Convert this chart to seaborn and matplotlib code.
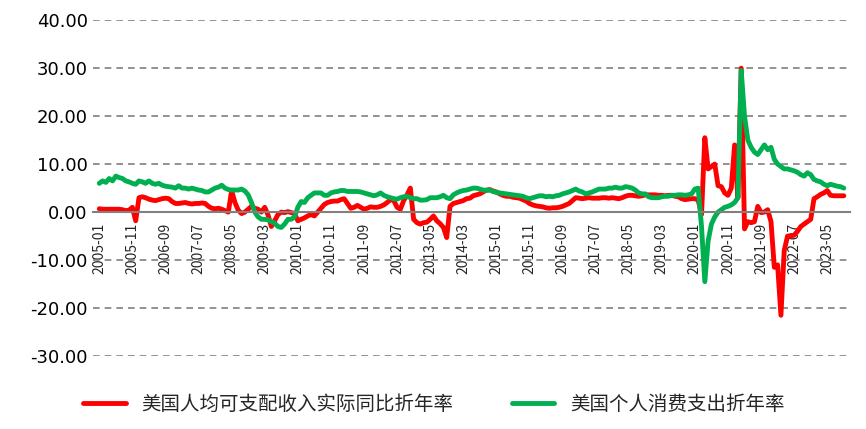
import numpy as np
import pandas as pd
import seaborn as sns
import matplotlib
matplotlib.use("Agg")
import matplotlib.pyplot as plt

# Monthly series, 2005-01 .. 2023-10

months = pd.date_range("2005-01-01", "2023-10-01", freq="MS").strftime("%Y-%m").tolist()

income = [
    0.7, 0.6, 0.6, 0.6, 0.6, 0.6, 0.6, 0.5, 0.3, 0.4, 1.0, -1.8,
    3.0, 3.2, 3.0, 2.7, 2.5, 2.4, 2.6, 2.8, 2.9, 2.8, 2.2, 1.8,
    1.8, 1.9, 2.0, 1.8, 1.7, 1.8, 1.8, 1.9, 1.8, 1.2, 0.8, 0.7,
    0.8, 0.6, 0.3, 0.0, 4.5, 2.0, 0.4, -0.3, 0.0, 0.6, 1.2, 0.8,
    0.6, 0.0, 1.0, -0.6, -3.0, -1.8, -0.5, 0.0, -0.1, 0.1, -0.1, -0.3,
    -1.8, -1.5, -1.2, -0.8, -0.5, -0.8, 0.0, 0.8, 1.6, 2.0, 2.2, 2.3,
    2.3, 2.6, 2.8, 1.8, 0.8, 1.0, 1.4, 1.0, 0.6, 0.8, 1.1, 1.0,
    1.0, 1.2, 1.5, 2.0, 2.6, 2.4, 1.0, 0.6, 2.4, 3.6, 5.0, -1.5,
    -2.2, -2.5, -2.2, -2.1, -1.5, -0.8, -1.8, -2.4, -3.2, -5.3, 1.2, 1.8,
    2.0, 2.2, 2.4, 2.8, 2.9, 3.4, 3.6, 3.8, 4.2, 4.6, 4.7, 4.4,
    4.2, 3.8, 3.5, 3.3, 3.3, 3.1, 3.0, 2.9, 2.6, 2.3, 1.8, 1.5,
    1.3, 1.2, 1.1, 0.9, 0.8, 0.9, 0.9, 1.0, 1.2, 1.5, 1.8, 2.4,
    3.0, 2.9, 2.8, 2.9, 3.0, 2.9, 2.9, 2.9, 3.0, 3.0, 2.9, 3.0,
    2.9, 2.8, 3.0, 3.3, 3.5, 3.5, 3.4, 3.3, 3.4, 3.6, 3.6, 3.6,
    3.6, 3.5, 3.5, 3.4, 3.5, 3.5, 3.3, 3.2, 2.8, 2.6, 2.7, 2.8,
    2.8, 2.5, -0.5, 15.5, 9.0, 9.5, 10.0, 5.5, 5.3, 4.0, 3.5, 5.0,
    14.0, 3.0, 30.0, -3.5, -2.0, -2.2, -2.0, 1.2, -0.1, 0.0, 0.5, -2.0,
    -11.5, -11.0, -21.5, -8.0, -5.0, -5.0, -4.8, -4.0, -3.0, -2.5, -2.0, -1.5,
    2.8, 3.2, 3.7, 4.0, 4.5, 3.5, 3.4, 3.4, 3.4, 3.4,
]

spending = [
    6.0, 6.5, 6.2, 7.0, 6.5, 7.5, 7.2, 7.0, 6.5, 6.3, 6.0, 5.8,
    6.5, 6.3, 6.0, 6.5, 6.0, 5.8, 6.0, 5.6, 5.4, 5.3, 5.2, 5.0,
    5.5, 5.0, 5.0, 4.8, 5.0, 4.8, 4.6, 4.5, 4.2, 4.2, 4.6, 5.0,
    5.2, 5.6, 5.0, 4.7, 4.6, 4.6, 4.6, 4.8, 4.4, 3.6, 2.0, 0.0,
    -1.0, -1.5, -1.5, -1.6, -2.0, -2.3, -3.0, -3.2, -2.5, -1.5, -1.5, -1.0,
    1.0, 2.2, 2.0, 3.0, 3.5, 4.0, 4.0, 4.0, 3.5, 3.5, 4.0, 4.2,
    4.3, 4.5, 4.5, 4.3, 4.3, 4.3, 4.3, 4.2, 4.0, 3.8, 3.6, 3.4,
    3.6, 4.0, 3.5, 3.2, 3.0, 2.8, 2.7, 3.0, 3.2, 3.3, 3.0, 2.8,
    2.8, 2.5, 2.5, 2.6, 3.0, 3.0, 3.0, 3.2, 3.5, 3.0, 2.8, 3.6,
    4.0, 4.3, 4.5, 4.6, 4.8, 5.0, 5.0, 4.8, 4.6, 4.5, 4.6, 4.3,
    4.1, 4.0, 3.9, 3.8, 3.7, 3.6, 3.5, 3.4, 3.3, 3.0, 2.8, 3.0,
    3.2, 3.4, 3.4, 3.2, 3.3, 3.2, 3.4, 3.5, 3.8, 4.0, 4.2, 4.5,
    4.8, 4.4, 4.2, 3.8, 4.0, 4.2, 4.5, 4.8, 4.8, 4.8, 5.0, 5.0,
    5.2, 5.0, 5.0, 5.3, 5.2, 5.0, 4.6, 4.0, 3.8, 3.8, 3.2, 3.0,
    3.0, 3.0, 3.2, 3.3, 3.3, 3.5, 3.5, 3.6, 3.6, 3.5, 3.6, 3.8,
    4.8, 5.0, -3.0, -14.5, -6.0, -2.5, -1.0, 0.0, 0.5, 1.0, 1.2, 1.5,
    2.0, 3.0, 29.5, 20.0, 15.0, 13.5, 12.5, 12.0, 13.0, 14.0, 13.0, 13.5,
    11.0, 10.0, 9.5, 9.0, 9.0, 8.8, 8.6, 8.3, 7.8, 7.5, 8.2, 7.8,
    6.8, 6.5, 6.3, 5.8, 5.5, 5.8, 5.6, 5.4, 5.3, 5.0,
]

label_income = "美国人均可支配收入实际同比折年率"
label_spending = "美国个人消费支出折年率"

df = pd.DataFrame({"idx": np.arange(len(months)), "month": months,
                   label_income: income, label_spending: spending})
long = df.melt(id_vars=["idx", "month"], var_name="series", value_name="value")

sns.set_style("white")
plt.rcParams["font.family"] = ["Noto Sans CJK SC", "DejaVu Sans"]

fig = plt.figure(figsize=(8.66, 4.29), dpi=100)
ax = fig.add_axes([0.107, 0.17, 0.875, 0.783])

sns.lineplot(data=long, x="idx", y="value", hue="series",
             palette=["#ff0000", "#00b050"], linewidth=3.5, ax=ax)

ax.set_ylim(-30, 40)
ax.set_yticks(range(-30, 41, 10))
ax.set_yticklabels([f"{v:.2f}" for v in range(-30, 41, 10)], fontsize=13,
                   family="DejaVu Sans", color="black")
ax.yaxis.grid(True, linestyle=(0, (4, 3)), color="#808080", linewidth=1.2)
ax.set_axisbelow(True)

ticks = list(range(0, len(months), 10))
ax.set_xticks(ticks)
ax.set_xticklabels([months[i] for i in ticks], fontsize=13,
                   family="DejaVu Sans", color="black")
ax.set_xlim(-2, len(months) + 1)

for s in ["top", "right", "left"]:
    ax.spines[s].set_visible(False)
ax.spines["bottom"].set_position(("data", 0))
ax.spines["bottom"].set_color("#808080")
ax.spines["bottom"].set_linewidth(1.5)
ax.tick_params(axis="x", direction="out", length=5, color="#808080", width=1.2,
               pad=3, labelrotation=90)
ax.tick_params(axis="y", length=0)
ax.set_xlabel("")
ax.set_ylabel("")

ax.legend(loc="upper center", bbox_to_anchor=(0.45, -0.06), ncol=2, frameon=False,
          fontsize=14, handlelength=2.2, columnspacing=3)

fig.savefig("out.png", dpi=100)
